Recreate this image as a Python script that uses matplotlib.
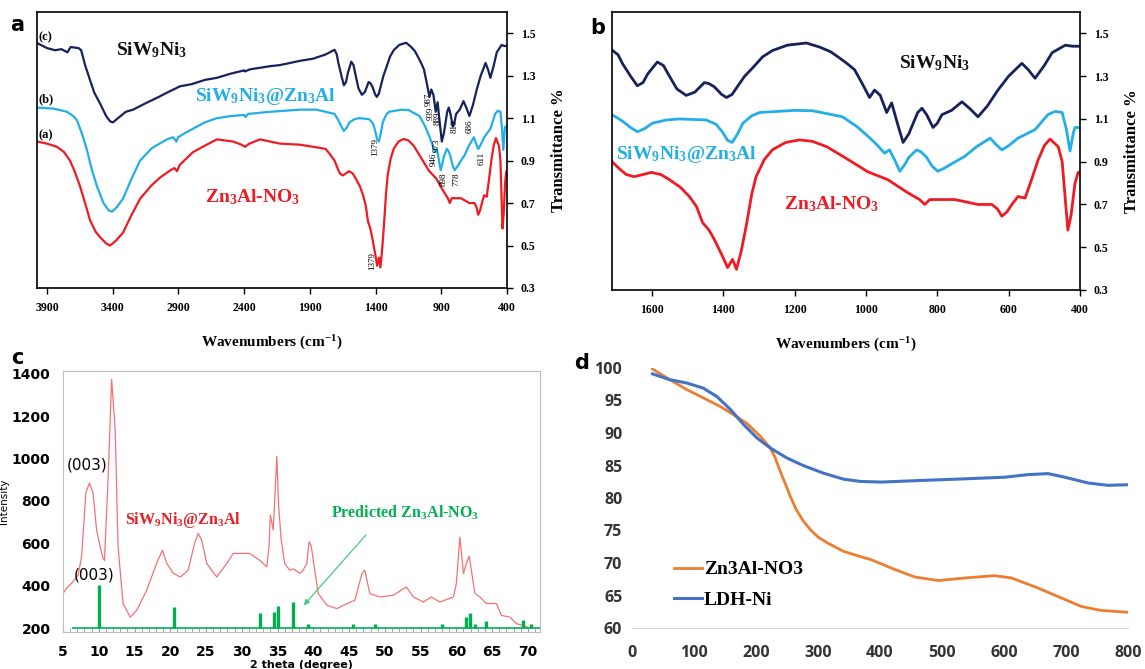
import matplotlib
matplotlib.use('Agg')
import matplotlib.pyplot as plt
from matplotlib.ticker import MultipleLocator

W, H = 1145, 669

plt.rcParams['mathtext.fontset'] = 'custom'
plt.rcParams['mathtext.rm'] = 'Liberation Serif:bold'
plt.rcParams['mathtext.it'] = 'Liberation Serif:bold'
plt.rcParams['mathtext.bf'] = 'Liberation Serif:bold'

SERIF = 'Liberation Serif'
SANS = 'DejaVu Sans'
NAVY = '#17215c'
SKY = '#22aee6'
RED = '#ef1b23'

# ---- FTIR (wavenumber cm-1 / transmittance) ----
wn_siw = [3976, 3900, 3839, 3790, 3745, 3720, 3660, 3640, 3610, 3573, 3540, 3497,
          3450, 3420, 3398, 3360, 3300, 3245, 3150, 3050, 2987, 2888, 2800, 2700,
          2607, 2500, 2400, 2395, 2355, 2200, 2127, 1975, 1876, 1780, 1712, 1695,
          1683, 1660, 1641, 1625, 1612, 1585, 1568, 1551, 1530, 1504, 1480, 1453,
          1440, 1425, 1405, 1391, 1375, 1363, 1340, 1317, 1290, 1262, 1220, 1167,
          1130, 1100, 1074, 1050, 1032, 1012, 990, 976, 960, 942, 928, 912, 896,
          880, 870, 855, 843, 830, 812, 800, 787, 760, 731, 710, 686, 660, 630, 600,
          563, 545, 526, 500, 478, 441, 422, 400]
t_siw = [1.454, 1.43, 1.42, 1.425, 1.41, 1.435, 1.43, 1.42, 1.35, 1.28, 1.22, 1.17,
         1.11, 1.085, 1.08, 1.10, 1.13, 1.14, 1.17, 1.20, 1.22, 1.25, 1.26, 1.28,
         1.29, 1.31, 1.325, 1.32, 1.33, 1.345, 1.35, 1.37, 1.38, 1.40, 1.422, 1.40,
         1.36, 1.30, 1.255, 1.27, 1.31, 1.366, 1.35, 1.30, 1.24, 1.21, 1.225, 1.27,
         1.265, 1.25, 1.215, 1.20, 1.215, 1.245, 1.30, 1.34, 1.39, 1.42, 1.445, 1.455,
         1.436, 1.415, 1.385, 1.355, 1.33, 1.27, 1.20, 1.235, 1.21, 1.13, 1.175, 1.08, 0.99,
         1.03, 1.07, 1.13, 1.15, 1.12, 1.06, 1.08, 1.12, 1.14, 1.18, 1.15, 1.11, 1.16, 1.235, 1.30,
         1.36, 1.33, 1.29, 1.35, 1.41, 1.445, 1.44, 1.44]

wn_siw_ldh = [3976, 3850, 3748, 3700, 3672, 3630, 3596, 3560, 3520, 3470, 3430, 3405,
              3370, 3322, 3260, 3192, 3100, 2987, 2940, 2915, 2903, 2850, 2789, 2700,
              2607, 2500, 2400, 2390, 2370, 2200, 1975, 1850, 1712, 1683, 1660, 1641,
              1620, 1599, 1560, 1523, 1448, 1420, 1403, 1388, 1375, 1360, 1345, 1320,
              1298, 1200, 1149, 1066, 1026, 995, 970, 948, 934, 920, 905, 890, 880, 858,
              845, 830, 815, 799, 780, 760, 723, 690, 652, 635, 619, 600, 574, 526,
              490, 470, 450, 438, 428, 418, 414, 400]
t_siw_ldh = [1.15, 1.145, 1.13, 1.11, 1.09, 1.02, 0.95, 0.86, 0.78, 0.70, 0.665, 0.66,
             0.68, 0.72, 0.81, 0.90, 0.96, 1.00, 1.01, 0.99, 1.01, 1.03, 1.05, 1.08,
             1.10, 1.11, 1.115, 1.105, 1.12, 1.13, 1.14, 1.14, 1.12, 1.09, 1.06, 1.04,
             1.055, 1.08, 1.095, 1.10, 1.095, 1.075, 1.04, 1.00, 0.99, 1.03, 1.08, 1.115,
             1.13, 1.14, 1.138, 1.11, 1.065, 1.02, 0.98, 0.94, 0.955, 0.91, 0.855, 0.89, 0.92, 0.955,
             0.945, 0.92, 0.88, 0.855, 0.87, 0.89, 0.925, 0.97, 1.01, 0.98, 0.955, 0.975, 1.01, 1.05,
             1.12, 1.135, 1.13, 1.05, 0.95, 1.04, 1.06, 1.06]

wn_ldh = [3976, 3900, 3824, 3770, 3725, 3690, 3649, 3610, 3573, 3530, 3497, 3450,
          3421, 3380, 3322, 3260, 3192, 3110, 3040, 2960, 2930, 2911, 2890, 2789, 2700,
          2607, 2485, 2420, 2393, 2360, 2279, 2127, 1975, 1823, 1780, 1747, 1712, 1690,
          1672, 1650, 1625, 1602, 1575, 1551, 1520, 1495, 1475, 1458, 1440, 1425, 1402,
          1388, 1374, 1363, 1350, 1336, 1320, 1308, 1285, 1262, 1225, 1186, 1150, 1110,
          1054, 995, 939, 883, 850, 835, 821, 751, 686, 647, 632, 619, 605, 591,
          574, 554, 535, 517, 500, 484, 461, 450, 445, 434, 425, 414, 405, 400]
t_ldh = [0.99, 0.98, 0.965, 0.94, 0.90, 0.85, 0.78, 0.70, 0.62, 0.565, 0.54, 0.51,
         0.50, 0.52, 0.56, 0.64, 0.72, 0.78, 0.82, 0.855, 0.865, 0.85, 0.88, 0.94, 0.97,
         1.00, 0.99, 0.975, 0.965, 0.98, 1.00, 0.98, 0.975, 0.96, 0.955, 0.93, 0.90, 0.865,
         0.84, 0.83, 0.84, 0.85, 0.84, 0.816, 0.78, 0.737, 0.69, 0.615, 0.58, 0.536, 0.457,
         0.405, 0.443, 0.397, 0.48, 0.597, 0.75, 0.83, 0.91, 0.956, 0.99, 1.002, 0.995, 0.97,
         0.914, 0.853, 0.816, 0.755, 0.723, 0.70, 0.723, 0.723, 0.70, 0.70, 0.68,
         0.645, 0.665, 0.70, 0.737, 0.73, 0.82, 0.91, 0.975, 1.006, 0.97, 0.90, 0.80, 0.58,
         0.65, 0.80, 0.85, 0.85]

t_ticks = [0.3, 0.5, 0.7, 0.9, 1.1, 1.3, 1.5]
t_ticklabels = ['0.3', '0.5', '0.7', '0.9', '1.1', '1.3', '1.5']
wn_ticks_a = [3900, 3400, 2900, 2400, 1900, 1400, 900, 400]
wn_ticks_b = [1600, 1400, 1200, 1000, 800, 600, 400]

# peak labels in panel a: (text, wn, T)
peak_labels = [('1379', 1404, 0.966), ('987', 999, 1.19), ('939', 981, 1.123),
               ('889', 930, 1.10), ('810', 796, 1.06), ('686', 681, 1.06),
               ('973', 935, 0.974), ('946', 955, 0.904), ('898', 885, 0.81),
               ('778', 783, 0.81), ('611', 592, 0.912), ('1379', 1429, 0.428)]

# ---- XRD ----
xrd_2theta = [5.0, 5.5, 6.2, 7.1, 7.6, 7.85, 8.2, 8.7, 9.2, 9.7, 10.2, 10.6, 10.8,
              11.3, 11.8, 12.3, 12.7, 13.4, 14.4, 15.3, 16.7, 18.1, 18.9, 19.5, 20.4,
              21.4, 22.5, 23.4, 23.9, 24.4, 25.1, 26.5, 27.9, 28.8, 31.1, 32.5, 33.5,
              33.8, 34.0, 34.4, 34.9, 35.15, 35.5, 36.0, 36.7, 37.2, 38.1, 38.5, 39.1,
              39.4, 39.7, 40.2, 40.7, 41.9, 43.3, 44.7, 45.8, 46.8, 47.2, 47.9, 49.3,
              51.2, 53.0, 54.0, 55.4, 56.5, 57.7, 59.6, 60.0, 60.5, 61.0, 61.4, 61.8,
              62.1, 62.6, 63.3, 64.2, 65.6, 66.3, 67.5, 68.4, 69.3, 70.0]
xrd_int = [364, 390, 412, 450, 537, 663, 838, 885, 838, 663, 584, 529, 520,
           899, 1372, 1135, 584, 317, 253, 285, 380, 507, 568, 507, 460,
           442, 474, 600, 647, 616, 506, 442, 506, 553, 553, 521, 490,
           584, 734, 663, 1010, 780, 620, 506, 474, 480, 460, 470, 506,
           608, 590, 474, 364, 309, 293, 317, 332, 458, 474, 364, 348,
           356, 395, 348, 324, 348, 324, 348, 411, 630, 458, 506, 540,
           474, 364, 348, 317, 317, 261, 253, 222, 214, 205]
ref_2theta = [10.0, 20.5, 32.6, 34.5, 35.05, 37.2, 39.3, 45.6, 48.6, 58.0, 61.4, 61.9,
              62.6, 64.2, 69.3, 70.4]
ref_int = [405, 302, 272, 277, 304, 324, 222, 222, 222, 222, 253, 272, 222, 233, 240, 222]
xrd_base = 200

# ---- TGA ----
tga_temp_zn = [33, 61, 88, 115, 142, 164, 185, 207, 223, 230, 236, 242, 249, 256, 265,
               276, 288, 300, 315, 341, 368, 386, 424, 456, 494, 537, 585, 612, 655,
               693, 725, 757, 803]
tga_w_zn = [99.85, 98.2, 96.7, 95.4, 94.1, 92.8, 91.5, 89.5, 87.7, 86.4, 84.9, 83.4,
            81.8, 80.1, 78.2, 76.5, 75.1, 74.0, 73.1, 71.8, 71.0, 70.5, 69.0, 67.85,
            67.3, 67.7, 68.05, 67.7, 66.15, 64.6, 63.3, 62.7, 62.4]
tga_temp_ni = [33, 61, 88, 115, 137, 159, 180, 202, 223, 249, 276, 308, 341, 368, 402,
               467, 537, 601, 639, 671, 698, 736, 768, 803]
tga_w_ni = [99.1, 98.2, 97.7, 96.9, 95.6, 93.6, 91.3, 89.2, 87.7, 86.2, 85.0, 83.85,
            82.9, 82.55, 82.45, 82.7, 82.95, 83.2, 83.6, 83.75, 83.2, 82.3, 81.95, 82.05]


def px_axes(fig, left, top, right, bottom):
    return fig.add_axes([left / W, 1 - bottom / H, (right - left) / W, (bottom - top) / H])


def style_ftir(ax, xlim, xticks, lw):
    for xs, ys, c in [(wn_siw, t_siw, NAVY), (wn_siw_ldh, t_siw_ldh, SKY),
                      (wn_ldh, t_ldh, RED)]:
        ax.plot(xs, ys, color=c, lw=lw, solid_joinstyle='round')
    ax.set_xlim(*xlim)
    ax.set_ylim(0.3, 1.6)
    ax.yaxis.tick_right()
    ax.yaxis.set_label_position('right')
    ax.set_yticks(t_ticks)
    ax.set_yticklabels(t_ticklabels)
    ax.set_xticks(xticks)
    ax.set_xticklabels([str(v) for v in xticks])
    ax.tick_params(direction='out', length=4, width=1, pad=6, labelsize=8.5)
    for lab in ax.get_xticklabels() + ax.get_yticklabels():
        lab.set_fontfamily(SERIF)
        lab.set_fontweight('bold')
    for sp in ax.spines.values():
        sp.set_linewidth(1.2)
    ax.set_ylabel('Transmittance %', fontfamily=SERIF, fontweight='bold',
                  fontsize=12, rotation=90, labelpad=11)
    ax.set_xlabel('Wavenumbers (cm$^{-1}$)', fontfamily=SERIF, fontweight='bold',
                  fontsize=11, labelpad=14)


fig = plt.figure(figsize=(W / 100, H / 100), dpi=100)

# panel a
ax_a = px_axes(fig, 37, 12, 507, 288)
style_ftir(ax_a, (3976, 400), wn_ticks_a, 1.6)
for txt, yy in [('(c)', 1.48), ('(b)', 1.19), ('(a)', 1.02)]:
    ax_a.text(3962, yy, txt, fontfamily=SERIF, fontweight='bold', fontsize=9,
              ha='left', va='center')
ax_a.text(3101, 1.42, 'SiW$_9$Ni$_3$', color='#111111', fontfamily=SERIF,
          fontweight='bold', fontsize=14, ha='center', va='center')
ax_a.text(2241, 1.20, 'SiW$_9$Ni$_3$@Zn$_3$Al', color=SKY, fontfamily=SERIF,
          fontweight='bold', fontsize=14, ha='center', va='center')
ax_a.text(2333, 0.73, 'Zn$_3$Al-NO$_3$', color=RED, fontfamily=SERIF,
          fontweight='bold', fontsize=14, ha='center', va='center')
for txt, x, y in peak_labels:
    ax_a.text(x, y, txt, fontfamily=SERIF, fontsize=6.5, rotation=90,
              ha='center', va='center')

# panel b
ax_b = px_axes(fig, 612, 12, 1080, 290)
style_ftir(ax_b, (1712, 400), wn_ticks_b, 2.0)
ax_b.text(807, 1.36, 'SiW$_9$Ni$_3$', color='#111111', fontfamily=SERIF,
          fontweight='bold', fontsize=14, ha='center', va='center')
ax_b.text(1504, 0.933, 'SiW$_9$Ni$_3$@Zn$_3$Al', color=SKY, fontfamily=SERIF,
          fontweight='bold', fontsize=14, ha='center', va='center')
ax_b.text(1096, 0.70, 'Zn$_3$Al-NO$_3$', color=RED, fontfamily=SERIF,
          fontweight='bold', fontsize=14, ha='center', va='center')

# panel c
ax_c = px_axes(fig, 63, 371, 540, 632)
ax_c.plot(xrd_2theta, xrd_int, color='#f47272', lw=0.9)
ax_c.hlines(xrd_base, 6.2, 71.7, color='#00b050', lw=1.2)
ax_c.vlines(ref_2theta, xrd_base, ref_int, color='#00b050', lw=2.4)
ax_c.set_xlim(5, 71.7)
ax_c.set_ylim(183, 1412)
ax_c.set_xticks(range(5, 71, 5))
ax_c.set_yticks(range(200, 1401, 200))
ax_c.xaxis.set_minor_locator(MultipleLocator(1))
ax_c.tick_params(axis='x', which='both', direction='in', length=3, color='#9a9a9a', pad=9)
ax_c.tick_params(axis='y', length=0, pad=9)
ax_c.tick_params(labelsize=10)
for lab in ax_c.get_xticklabels() + ax_c.get_yticklabels():
    lab.set_fontfamily(SANS)
    lab.set_fontweight('bold')
for sp in ax_c.spines.values():
    sp.set_color('#bdbdbd')
ax_c.set_ylabel('Intensity', fontfamily=SANS, fontsize=7.5, labelpad=2)
ax_c.set_xlabel('2 theta (degree)', fontfamily=SANS, fontweight='bold', fontsize=8,
                labelpad=1)
ax_c.text(8.35, 970, '(003)', fontfamily=SANS, fontsize=11, ha='center', va='center')
ax_c.text(9.33, 450, '(003)', fontfamily=SANS, fontsize=11, ha='center', va='center')
ax_c.text(21.8, 710, 'SiW$_9$Ni$_3$@Zn$_3$Al', color=RED, fontfamily=SERIF,
          fontweight='bold', fontsize=11.5, ha='center', va='center')
ax_c.text(52.8, 743, 'Predicted Zn$_3$Al-NO$_3$', color='#00b050', fontfamily=SERIF,
          fontweight='bold', fontsize=11.5, ha='center', va='center')
ax_c.annotate('', xy=(38.4, 299), xytext=(47.6, 649),
              arrowprops=dict(arrowstyle='-|>', color='#47c985', lw=0.9,
                              mutation_scale=8))

# panel d
ax_d = px_axes(fig, 632, 368, 1128, 628)
ax_d.plot(tga_temp_zn, tga_w_zn, color='#ed7d31', lw=2.0, label='Zn3Al-NO3',
          solid_joinstyle='round')
ax_d.plot(tga_temp_ni, tga_w_ni, color='#4472c4', lw=2.2, label='LDH-Ni',
          solid_joinstyle='round')
ax_d.set_xlim(0, 800)
ax_d.set_ylim(60, 100)
ax_d.set_xticks(range(0, 801, 100))
ax_d.set_yticks(range(60, 101, 5))
for sp in ['top', 'right', 'left']:
    ax_d.spines[sp].set_visible(False)
ax_d.spines['bottom'].set_color('#d9d9d9')
ax_d.tick_params(length=0, labelsize=11.5, labelcolor='#333333')
ax_d.tick_params(axis='x', pad=12)
ax_d.tick_params(axis='y', pad=7)
for lab in ax_d.get_xticklabels() + ax_d.get_yticklabels():
    lab.set_fontfamily('Open Sans')
    lab.set_fontweight('bold')
ax_d.legend(loc='upper left', bbox_to_anchor=(664 / W, 1 - 551 / H),
            bbox_transform=fig.transFigure, frameon=False, borderpad=0,
            handlelength=1.45, handletextpad=0.1, labelspacing=0.65,
            prop={'family': SERIF, 'weight': 'bold', 'size': 14})

# panel letters
for letter, x, y in [('a', 17, 25), ('b', 598, 28), ('c', 17, 358), ('d', 582, 363)]:
    fig.text(x / W, 1 - y / H, letter, fontfamily=SANS, fontweight='bold',
             fontsize=15, ha='center', va='center')

fig.savefig('out.png', dpi=100)
